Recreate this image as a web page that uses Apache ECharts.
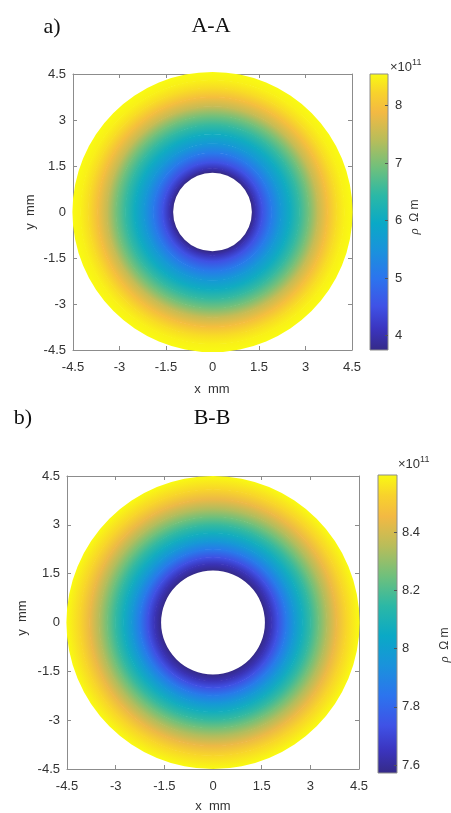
<!DOCTYPE html>
<html>
<head>
<meta charset="utf-8">
<script src="https://cdn.jsdelivr.net/npm/echarts@6/dist/echarts.min.js"></script>
<style>
html,body{margin:0;padding:0;background:#fff;}
#chart{width:451px;height:813px;}
</style>
</head>
<body>
<div id="chart"></div>
<script>
// ---------- data ----------
const axisTicks = [-4.5, -3, -1.5, 0, 1.5, 3, 4.5];
// Panel a) A-A : radial profile of resistivity (x1e11 Ohm m)
const radiiA = [1.27, 1.4, 1.6, 1.9, 2.2, 2.5, 2.8, 3.1, 3.4, 3.7, 4.0, 4.25, 4.5];
const rhoA   = [3.75, 4.05, 4.5, 5.1, 5.6, 6.05, 6.5, 6.95, 7.5, 7.95, 8.3, 8.47, 8.55];
const cbarRangeA = [3.75, 8.55];
const cbarTicksA = [4, 5, 6, 7, 8];
// Panel b) B-B
const radiiB = [1.6, 1.8, 2.0, 2.25, 2.5, 2.75, 3.0, 3.25, 3.5, 3.8, 4.1, 4.5];
const rhoB   = [7.575, 7.64, 7.73, 7.86, 7.97, 8.07, 8.16, 8.25, 8.34, 8.44, 8.53, 8.595];
const cbarRangeB = [7.573, 8.596];
const cbarTicksB = [7.6, 7.8, 8, 8.2, 8.4];

// parula-like colormap stops
const parulaStops = [
  [0.00, '#352a87'], [0.08, '#3b35c0'], [0.16, '#3f52e6'], [0.26, '#2c74ee'],
  [0.36, '#1a92dc'], [0.46, '#0aa9c6'], [0.56, '#2bb8a6'], [0.66, '#6fc07c'],
  [0.76, '#b8bd5a'], [0.86, '#f3b943'], [0.93, '#f8d22c'], [1.00, '#f9fa12']
];
function hex2rgb(h){return [parseInt(h.slice(1,3),16),parseInt(h.slice(3,5),16),parseInt(h.slice(5,7),16)];}
function parula(t){
  t = Math.max(0, Math.min(1, t));
  for (let i = 1; i < parulaStops.length; i++) {
    if (t <= parulaStops[i][0]) {
      const a = parulaStops[i-1], b = parulaStops[i];
      const f = (t - a[0]) / (b[0] - a[0]);
      const ca = hex2rgb(a[1]), cb = hex2rgb(b[1]);
      const c = ca.map((v, k) => Math.round(v + (cb[k] - v) * f));
      return 'rgb(' + c.join(',') + ')';
    }
  }
  return parulaStops[parulaStops.length-1][1];
}

const labelColor = '#333333';
const boxColor = '#8c8c8c';
const fontSans = 'Liberation Sans, Arial, sans-serif';

function annulusSeries(radii, vals, xi, yi, range) {
  const data = radii.slice(0, -1).map((r, i) => [r, radii[i+1], vals[i], vals[i+1]]);
  return {
    type: 'custom', xAxisIndex: xi, yAxisIndex: yi, data: data, z: 2,
    renderItem: function (params, api) {
      const r0 = api.value(0), r1 = api.value(1), v0 = api.value(2), v1 = api.value(3);
      const c = api.coord([0, 0]);
      const R0 = api.coord([r0, 0])[0] - c[0];
      const R1 = api.coord([r1, 0])[0] - c[0];
      const t0 = (v0 - range[0]) / (range[1] - range[0]);
      const t1 = (v1 - range[0]) / (range[1] - range[0]);
      return {
        type: 'ring',
        shape: { cx: c[0], cy: c[1], r: R1 + 0.6, r0: R0 },
        style: {
          fill: {
            type: 'radial', x: c[0], y: c[1], r: R1, global: true,
            colorStops: [{ offset: R0 / R1, color: parula(t0) }, { offset: 1, color: parula(t1) }]
          }
        }
      };
    }
  };
}

function colorbarSeries(xi, yi, range) {
  return {
    type: 'custom', xAxisIndex: xi, yAxisIndex: yi, data: [[0, range[0], 1, range[1]]], z: 2,
    renderItem: function (params, api) {
      const p0 = api.coord([api.value(0), api.value(1)]);
      const p1 = api.coord([api.value(2), api.value(3)]);
      return {
        type: 'rect',
        shape: { x: p0[0], y: p1[1], width: p1[0] - p0[0], height: p0[1] - p1[1] },
        style: {
          fill: {
            type: 'linear', x: 0, y: 1, x2: 0, y2: 0,
            colorStops: parulaStops.map(s => ({ offset: s[0], color: s[1] }))
          },
          stroke: boxColor, lineWidth: 1
        }
      };
    }
  };
}

function plotXAxis(gi, pos, showLabel) {
  return {
    type: 'value', gridIndex: gi, position: pos, min: -4.5, max: 4.5, interval: 1.5,
    axisLine: { show: true, onZero: false, lineStyle: { color: boxColor, width: 1 } },
    axisTick: { show: true, inside: true, length: 4, lineStyle: { color: boxColor } },
    axisLabel: { show: showLabel, color: labelColor, fontSize: 13, fontFamily: fontSans, margin: 11,
                 customValues: axisTicks },
    splitLine: { show: false }, z: 1
  };
}
function plotYAxis(gi, pos, showLabel) {
  return {
    type: 'value', gridIndex: gi, position: pos, min: -4.5, max: 4.5, interval: 1.5,
    axisLine: { show: true, onZero: false, lineStyle: { color: boxColor, width: 1 } },
    axisTick: { show: true, inside: true, length: 4, lineStyle: { color: boxColor } },
    axisLabel: { show: showLabel, color: labelColor, fontSize: 13, fontFamily: fontSans, margin: 7,
                 customValues: axisTicks },
    splitLine: { show: false }, z: 1
  };
}
function cbarXAxis(gi) {
  return { type: 'value', gridIndex: gi, min: 0, max: 1, show: false };
}
function cbarYAxis(gi, range, ticks, margin) {
  return {
    type: 'value', gridIndex: gi, position: 'right', min: range[0], max: range[1],
    axisLine: { show: false, onZero: false },
    axisTick: { show: true, inside: true, length: 3, lineStyle: { color: '#555' }, customValues: ticks },
    axisLabel: { show: true, color: labelColor, fontSize: 13, fontFamily: fontSans, margin: margin,
                 customValues: ticks, formatter: v => String(Math.round(v * 10) / 10) },
    splitLine: { show: false }, z: 10
  };
}

const serif = 'Liberation Serif, Times New Roman, serif';
function txt(x, y, text, size, font, color, extra) {
  return Object.assign({ type: 'text', x: x, y: y, z: 100,
    style: { text: text, fontSize: size, fontFamily: font, fill: color, align: 'center', verticalAlign: 'middle' } }, extra || {});
}
function rhoLabel(x, y) {
  return { type: 'text', x: x, y: y, rotation: Math.PI / 2, z: 100,
    style: { text: '{i|ρ}  Ω m', fontSize: 12, fontFamily: fontSans, fill: labelColor, align: 'center', verticalAlign: 'middle',
             rich: { i: { fontStyle: 'italic', fontSize: 13, fontFamily: serif, fill: labelColor } } } };
}
function expLabel(x, y) {
  return { type: 'text', x: x, y: y, z: 100,
    style: { text: '{a|×10}{s|11}', fill: labelColor, verticalAlign: 'middle',
             rich: { a: { fontSize: 13, fontFamily: fontSans, fill: labelColor },
                     s: { fontSize: 9, fontFamily: fontSans, fill: labelColor, padding: [0, 0, 8, 0] } } } };
}

const option = {
  animation: false,
  backgroundColor: '#fff',
  grid: [
    { left: 73, top: 74, width: 279, height: 276 },
    { left: 370, top: 74, width: 18, height: 276 },
    { left: 67, top: 476, width: 292, height: 293 },
    { left: 378, top: 475, width: 19, height: 298 }
  ],
  xAxis: [
    plotXAxis(0, 'bottom', true), plotXAxis(0, 'top', false), cbarXAxis(1),
    plotXAxis(2, 'bottom', true), plotXAxis(2, 'top', false), cbarXAxis(3)
  ],
  yAxis: [
    plotYAxis(0, 'left', true), plotYAxis(0, 'right', false), cbarYAxis(1, cbarRangeA, cbarTicksA, 7),
    plotYAxis(2, 'left', true), plotYAxis(2, 'right', false), cbarYAxis(3, cbarRangeB, cbarTicksB, 5)
  ],
  series: [
    annulusSeries(radiiA, rhoA, 0, 0, cbarRangeA),
    colorbarSeries(2, 2, cbarRangeA),
    annulusSeries(radiiB, rhoB, 3, 3, cbarRangeB),
    colorbarSeries(5, 5, cbarRangeB)
  ],
  graphic: [
    txt(52, 27, 'a)', 22, serif, '#111'),
    txt(211, 26, 'A-A', 22, serif, '#111'),
    txt(23, 418, 'b)', 22, serif, '#111'),
    txt(212, 418, 'B-B', 22, serif, '#111'),
    txt(212, 389, 'x  mm', 13, fontSans, labelColor),
    txt(213, 806, 'x  mm', 13, fontSans, labelColor),
    txt(30, 212, 'y  mm', 13, fontSans, labelColor, { rotation: Math.PI / 2 }),
    txt(22, 618, 'y  mm', 13, fontSans, labelColor, { rotation: Math.PI / 2 }),
    rhoLabel(415, 217),
    rhoLabel(445, 645),
    expLabel(390, 67),
    expLabel(398, 464)
  ]
};

const chart = echarts.init(document.getElementById('chart'), null, { renderer: 'canvas' });
chart.setOption(option);
</script>
</body>
</html>
